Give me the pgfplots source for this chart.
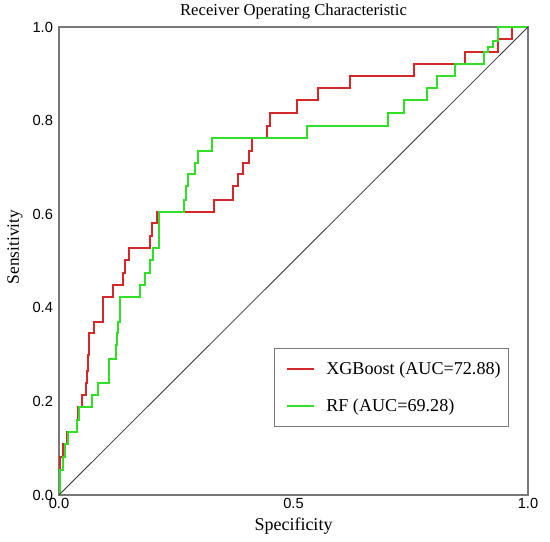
\documentclass[border=0pt]{standalone}
\usepackage{pgfplots}
\pgfplotsset{compat=1.18}
\usepackage{fontspec}
\setmainfont{Liberation Serif}
\newfontfamily\arial{Liberation Sans}
\definecolor{rocred}{RGB}{214,40,40}
\definecolor{rocgreen}{RGB}{50,222,40}
\definecolor{axgrey}{RGB}{120,120,120}
\begin{document}
\begin{tikzpicture}
\begin{axis}[
  name=ax,
  scale only axis,
  width=351.75pt, height=351pt,
  xmin=0, xmax=1, ymin=0, ymax=1,
  xtick={0,0.5,1}, ytick={0,0.2,0.4,0.6,0.8,1},
  xticklabels={0.0,0.5,1.0},
  yticklabels={0.0,0.2,0.4,0.6,0.8,1.0},
  major tick length=0pt,
  axis line style={axgrey, line width=1.1pt},
  tick label style={font=\arial\fontsize{11}{13}\selectfont, text=black},
  xticklabel style={yshift=1pt},
  yticklabel style={xshift=-1pt},
  every axis title shift=0pt,
  title={Receiver Operating Characteristic},
  title style={at={(axis description cs:0.5,1)}, anchor=center, yshift=11.5pt, font=\fontsize{12.5}{14}\selectfont},
  xlabel={Specificity},
  xlabel style={at={(axis description cs:0.5,0)}, anchor=center, yshift=-23.5pt, font=\fontsize{13.5}{15}\selectfont},
  ylabel={Sensitivity},
  ylabel style={at={(axis description cs:-0.094,0.53)}, anchor=center, font=\fontsize{13}{15}\selectfont},
  legend style={at={(axis description cs:0.960,0.145)}, anchor=south east, draw=axgrey, line width=0.8pt,
    font=\fontsize{13.6}{15}\selectfont, inner xsep=4.5pt, inner ysep=8.5pt, row sep=14pt,
    nodes={inner sep=1.5pt}},
  legend cell align=left,
  legend image code/.code={\path (-4pt,0pt) (27pt,0pt);\draw[#1, line width=1.5pt] (0pt,0pt) -- (20pt,0pt);},
]
\addplot[rocred, line width=1.5pt] coordinates {
(0,0) (0.002,0) (0.002,0.081) (0.008,0.081) (0.008,0.109) (0.016,0.109) (0.016,0.135)
(0.039,0.135) (0.039,0.160) (0.041,0.160) (0.041,0.187) (0.048,0.187) (0.048,0.213)
(0.058,0.213) (0.058,0.239) (0.060,0.239) (0.060,0.265) (0.062,0.265) (0.062,0.299)
(0.063,0.299) (0.063,0.320) (0.065,0.320) (0.065,0.346) (0.074,0.346) (0.074,0.370)
(0.094,0.370) (0.094,0.423) (0.116,0.423) (0.116,0.449) (0.137,0.449) (0.137,0.475)
(0.140,0.475) (0.140,0.502) (0.150,0.502) (0.150,0.528) (0.193,0.528) (0.193,0.553)
(0.198,0.553) (0.198,0.582) (0.210,0.582) (0.210,0.605) (0.330,0.605) (0.330,0.630)
(0.372,0.630) (0.372,0.660) (0.382,0.660) (0.382,0.686) (0.393,0.686) (0.393,0.710)
(0.406,0.710) (0.406,0.735) (0.411,0.735) (0.411,0.763) (0.444,0.763) (0.444,0.788)
(0.450,0.788) (0.450,0.817) (0.507,0.817) (0.507,0.843) (0.553,0.843) (0.553,0.869)
(0.620,0.869) (0.620,0.895) (0.757,0.895) (0.757,0.921) (0.866,0.921) (0.866,0.946)
(0.937,0.946) (0.937,0.974) (0.965,0.974) (0.965,1.0) (1,1)
};
\addlegendentry{XGBoost (AUC=72.88)}
\addplot[rocgreen, line width=1.5pt] coordinates {
(0,0) (0.002,0) (0.002,0.053) (0.008,0.053) (0.008,0.081) (0.013,0.081) (0.013,0.109)
(0.020,0.109) (0.020,0.135) (0.038,0.135) (0.038,0.160) (0.043,0.160) (0.043,0.187)
(0.070,0.187) (0.070,0.213) (0.084,0.213) (0.084,0.239) (0.107,0.239) (0.107,0.291)
(0.122,0.291) (0.122,0.320) (0.124,0.320) (0.124,0.346) (0.126,0.346) (0.126,0.370)
(0.131,0.370) (0.131,0.423) (0.173,0.423) (0.173,0.449) (0.183,0.449) (0.183,0.475)
(0.193,0.475) (0.193,0.502) (0.200,0.502) (0.200,0.528) (0.214,0.528) (0.214,0.605)
(0.267,0.605) (0.267,0.630) (0.271,0.630) (0.271,0.660) (0.274,0.660) (0.274,0.686)
(0.290,0.686) (0.290,0.710) (0.297,0.710) (0.297,0.735) (0.326,0.735) (0.326,0.763)
(0.529,0.763) (0.529,0.788) (0.702,0.788) (0.702,0.817) (0.736,0.817) (0.736,0.843)
(0.784,0.843) (0.784,0.869) (0.807,0.869) (0.807,0.895) (0.844,0.895) (0.844,0.921)
(0.906,0.921) (0.906,0.946) (0.915,0.946) (0.915,0.958) (0.926,0.958) (0.926,0.971)
(0.937,0.971) (0.937,1.0) (1,1)
};
\addlegendentry{RF (AUC=69.28)}
\addplot[black!80, line width=0.6pt, forget plot] coordinates {(0,0) (1,1)};
\end{axis}
\pgfresetboundingbox
\path (ax.south west) ++(-44.25pt,-35.25pt) rectangle ++(412.5pt,406.5pt);
\end{tikzpicture}
\end{document}
